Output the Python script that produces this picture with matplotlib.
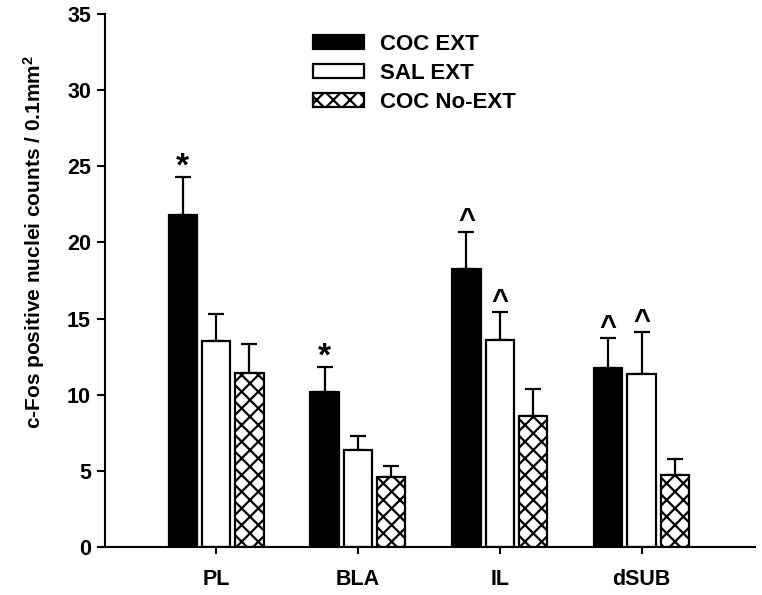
import numpy as np
import matplotlib
matplotlib.use("Agg")
import matplotlib.pyplot as plt

plt.rcParams["font.family"] = ["Liberation Sans", "DejaVu Sans"]
plt.rcParams["font.weight"] = "bold"
plt.rcParams["mathtext.fontset"] = "custom"
plt.rcParams["mathtext.bf"] = "Liberation Sans:bold"
plt.rcParams["hatch.linewidth"] = 1.6

# --- data ---
REGIONS = ["PL", "BLA", "IL", "dSUB"]
GROUPS = ["COC EXT", "SAL EXT", "COC No-EXT"]
COC_EXT = [21.8, 10.2, 18.25, 11.75]
COC_EXT_SEM = [2.5, 1.6, 2.45, 1.95]
SAL_EXT = [13.5, 6.4, 13.6, 11.35]
SAL_EXT_SEM = [1.8, 0.9, 1.8, 2.75]
COC_NOEXT = [11.4, 4.6, 8.6, 4.7]
COC_NOEXT_SEM = [1.9, 0.7, 1.8, 1.1]
# significance marks: (region index, group index, symbol)
MARKS = [(0, 0, "*"), (1, 0, "*"), (2, 0, "^"), (2, 1, "^"), (3, 0, "^"), (3, 1, "^")]

means = [COC_EXT, SAL_EXT, COC_NOEXT]
sems = [COC_EXT_SEM, SAL_EXT_SEM, COC_NOEXT_SEM]
styles = [
    dict(facecolor="black", hatch=None),
    dict(facecolor="white", hatch=None),
    dict(facecolor="white", hatch="xx"),
]

fig = plt.figure(figsize=(7.62, 5.95), dpi=100, facecolor="white")
ax = fig.add_axes([0.1378, 0.0807, 0.853, 0.8958])

x = np.arange(len(REGIONS))
offsets = [-0.235, 0.0, 0.235]
width = 0.2

for g in range(3):
    ax.bar(x + offsets[g], means[g], width, edgecolor="black", linewidth=1.6,
           label=GROUPS[g], zorder=2, **styles[g])
    ax.errorbar(x + offsets[g], means[g], yerr=[np.zeros(4), sems[g]], fmt="none",
                ecolor="black", elinewidth=1.6, capsize=6, capthick=1.6, zorder=1)

for r, g, sym in MARKS:
    top = means[g][r] + sems[g][r]
    if sym == "*":
        ax.annotate("*", (x[r] + offsets[g], top), xytext=(0, 1), textcoords="offset points",
                    ha="center", va="baseline", fontsize=24, fontweight="bold")
    else:
        ax.annotate("^", (x[r] + offsets[g], top), xytext=(0, 2.5), textcoords="offset points",
                    ha="center", va="baseline", fontsize=21, fontweight="bold")

ax.set_xlim(-0.783, 3.80)
ax.set_ylim(0, 35)
ax.set_yticks(range(0, 36, 5))
ax.set_xticks(x)
ax.set_xticklabels(REGIONS, fontsize=15.5, fontweight="bold")
ax.tick_params(axis="y", labelsize=15.5, length=6, width=1.5, direction="out", pad=4)
ax.tick_params(axis="x", length=5, width=1.5, direction="out", pad=11)
for lab in ax.get_yticklabels():
    lab.set_fontweight("bold")
for s in ["top", "right"]:
    ax.spines[s].set_visible(False)
for s in ["left", "bottom"]:
    ax.spines[s].set_linewidth(1.5)

ax.set_ylabel("c-Fos positive nuclei counts / 0.1mm$\\mathbf{^2}$", fontsize=15,
              fontweight="bold")
ax.yaxis.set_label_coords(-0.089, 0.572)

leg = ax.legend(loc="upper left", bbox_to_anchor=(0.32, 0.962), frameon=False,
                fontsize=16, handlelength=2.3, handleheight=0.6, labelspacing=0.35,
                handletextpad=0.7, borderaxespad=0, borderpad=0)
for t in leg.get_texts():
    t.set_fontweight("bold")

fig.savefig("out.png", dpi=100, facecolor="white")
